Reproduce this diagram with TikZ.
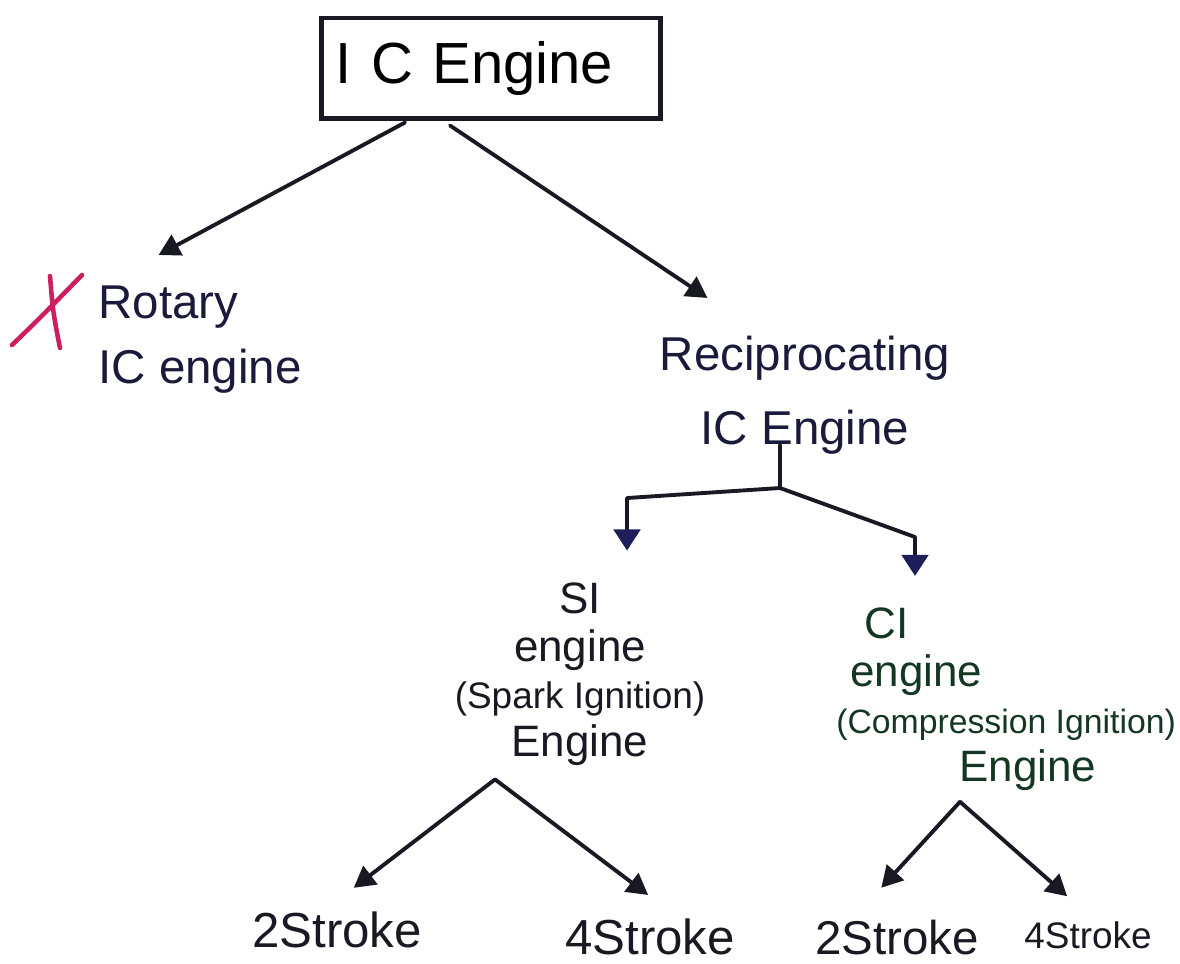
\documentclass[tikz,border=0pt]{standalone}
\usepackage{fontspec}
\setmainfont{Liberation Sans}
\usetikzlibrary{arrows.meta,calc}

\definecolor{ink}{RGB}{25,25,35}
\definecolor{inkblue}{RGB}{26,26,58}
\definecolor{tipblue}{RGB}{30,30,90}
\definecolor{inkgreen}{RGB}{20,55,35}
\definecolor{penred}{RGB}{205,30,95}

\tikzset{
    hand/.style={line width=1.1pt, draw=ink, line cap=round, line join=round},
    arr/.style={hand, -{Triangle[length=6pt,width=6.5pt]}, shorten >=6pt},
    bluearr/.style={arr, -{Triangle[length=6pt,width=7.5pt,color=tipblue]}},
    word/.style={text=ink, inner sep=3pt, font=\fontsize{13.5}{18.5}\selectfont},
}

\begin{document}
\begin{tikzpicture}[x=0.01cm, y=-0.01cm]
    \useasboundingbox (0,0) rectangle (1180,963);

    % top box
    \node[draw=ink, line width=1.4pt, text width=3.1cm, inner xsep=4pt, minimum height=1cm,
          align=left, font=\fontsize{16.5}{20}\selectfont] (ic) at (491,68) {I C Engine};

    % first split
    \node[word, text=inkblue, align=left] (rot) at (200,340) {Rotary\\IC engine};
    \node[word, text=inkblue, align=center, font=\fontsize{13.5}{21}\selectfont] (rec) at (805,395)
        {Reciprocating\\IC Engine};

    \draw[arr] ($(ic.south)+(-86,2)$) -- ($(rot.north)+(-60,-10)$);
    \draw[arr] ($(ic.south)+(-41,5)$) -- ($(rec.north)+(-80,-15)$);

    % crossed out by hand
    \draw[penred, line width=1.3pt, line cap=round]
        (12,345) .. controls (40,318) .. (82,275)
        (50,276) .. controls (53,312) .. (60,348);

    % SI / CI
    \node[word, align=center, font=\fontsize{12.5}{13.5}\selectfont] (si) at (580,674)
        {SI\\engine\\{\fontsize{10.5}{13.5}\selectfont (Spark Ignition)}\\Engine};
    \node[word, text=inkgreen, align=left, anchor=north west, font=\fontsize{12.5}{13.5}\selectfont] (ci) at (825,597)
        {\hspace*{8pt}CI\\\hspace*{4pt}engine\\{\fontsize{9.6}{13.5}\selectfont (Compression Ignition)}\\\hspace*{35pt}Engine};

    \coordinate (jn) at (780,488);
    \coordinate (sibend) at (627,498);
    \coordinate (cibend) at (915,537);
    \draw[hand] (jn) -- ($(jn |- rec.south)+(0,-20)$);
    \draw[bluearr] (jn) -- (sibend) -- (sibend |- si.north);
    \draw[bluearr] (jn) -- (cibend) -- (cibend |- ci.north);

    % strokes
    \foreach \nm/\x/\y/\sz/\txt in {si2/337/930/14/2Stroke, si4/650/937/14/4Stroke,
                                    ci2/897/937/13.5/2Stroke, ci4/1088/935/10.5/4Stroke}
    {
        \node[word, font=\fontsize{\sz}{\sz}\selectfont] (\nm) at (\x,\y) {\txt};
    }

    \coordinate (sifork) at ($(si.south)+(-85,3)$);
    \coordinate (cifork) at ($(ci.south west)+(135,0)$);
    \draw[arr] (sifork) -- (si2.north);
    \draw[arr] (sifork) -- ($(si4.north)+(15,0)$);
    \draw[arr] (cifork) -- ($(ci2.north)+(-30,-5)$);
    \draw[arr] (cifork) -- ($(ci4.north)+(-5,0)$);
\end{tikzpicture}
\end{document}
